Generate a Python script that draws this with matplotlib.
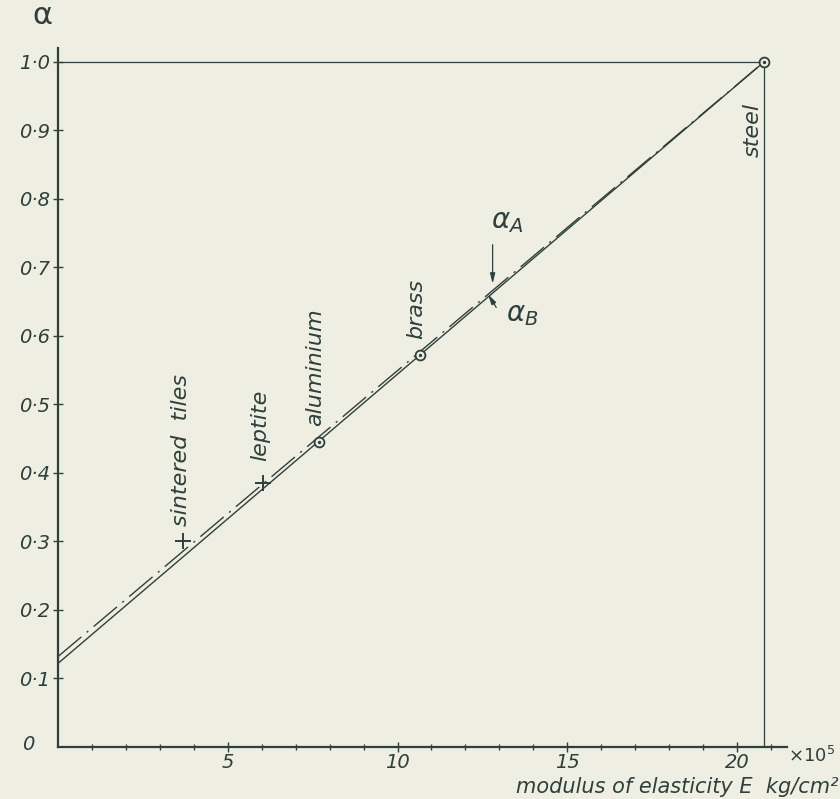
import matplotlib
matplotlib.use('Agg')
import matplotlib.pyplot as plt
import numpy as np

# data (E in 10^5 kg/cm^2)
line_E = [0.0, 20.8]
alpha_A = [0.132, 1.0]   # dash-dot line
alpha_B = [0.122, 1.0]   # solid line

cross_names = ['sintered tiles', 'leptite']
cross_E = [3.68, 6.03]
cross_alpha = [0.300, 0.385]

circle_names = ['aluminium', 'brass', 'steel']
circle_E = [7.68, 10.65, 20.8]
circle_alpha = [0.445, 0.572, 1.0]

x_ticks = [5, 10, 15, 20]
y_ticks = [0.1, 0.2, 0.3, 0.4, 0.5, 0.6, 0.7, 0.8, 0.9, 1.0]
y_tick_labels = ['0·1', '0·2', '0·3', '0·4', '0·5', '0·6', '0·7', '0·8', '0·9', '1·0']

ink = '#2e403b'
paper = '#efeee3'

plt.rcParams['font.family'] = ['DejaVu Sans']

fig = plt.figure(figsize=(8.4, 7.99), dpi=100, facecolor=paper)
ax = fig.add_axes([58 / 840, 52 / 799, (787 - 58) / 840, (747 - 48) / 799])
ax.set_facecolor(paper)
ax.set_xlim(0, 21.47)
ax.set_ylim(0, 1.02)

for s in ['top', 'right']:
    ax.spines[s].set_visible(False)
for s in ['left', 'bottom']:
    ax.spines[s].set_color(ink)
    ax.spines[s].set_linewidth(1.6)

ax.set_xticks(x_ticks)
ax.set_xticklabels([str(t) for t in x_ticks], fontsize=14, style='italic', color=ink)
ax.set_xticks(np.arange(1, 22), minor=True)
ax.set_yticks(y_ticks)
ax.set_yticklabels(y_tick_labels, fontsize=14, style='italic', color=ink)
ax.tick_params(axis='both', which='both', direction='inout', color=ink, width=1.0)
ax.tick_params(axis='both', which='major', length=7)
ax.tick_params(axis='both', which='minor', length=4)
ax.tick_params(axis='x', pad=1)
ax.tick_params(axis='y', pad=2)

# frame lines to the steel point
ax.plot([0, circle_E[-1]], [1.0, 1.0], color=ink, lw=0.9)
ax.plot([circle_E[-1], circle_E[-1]], [0, 1.0], color=ink, lw=0.9)

# the two nearly coincident lines
ax.plot(line_E, alpha_B, color=ink, lw=1.0, solid_capstyle='butt')
ax.plot(line_E, alpha_A, color=ink, lw=1.0, dashes=(22, 5, 1.5, 5))

# material points
ax.scatter(cross_E, cross_alpha, marker='+', s=140, color=ink, linewidths=1.4, zorder=4)
ax.scatter(circle_E, circle_alpha, marker='o', s=50, facecolors=paper, edgecolors=ink,
           linewidths=1.3, zorder=4)
ax.scatter(circle_E, circle_alpha, marker='.', s=8, color=ink, zorder=5)

# vertical labels
label_pos = {
    'sintered  tiles': (3.62, 0.322, 'bottom'),
    'leptite': (5.97, 0.418, 'bottom'),
    'aluminium': (7.58, 0.468, 'bottom'),
    'brass': (10.55, 0.595, 'bottom'),
    'steel': (20.45, 0.90, 'center'),
}
for name, (x, y, va) in label_pos.items():
    ax.text(x, y, name, rotation=90, ha='center', va=va, fontsize=16,
            style='italic', color=ink)

# alpha_A / alpha_B arrows
ax.annotate('', xy=(12.8, 0.672), xytext=(12.8, 0.737),
            arrowprops=dict(arrowstyle='-|>,head_length=0.6,head_width=0.15',
                            color=ink, lw=0.9))
ax.annotate('', xy=(12.62, 0.664), xytext=(12.95, 0.638),
            arrowprops=dict(arrowstyle='-|>,head_length=0.6,head_width=0.15',
                            color=ink, lw=0.9))
ax.text(12.75, 0.768, r'$\alpha_A$', fontsize=20, color=ink, ha='left', va='center')
ax.text(13.2, 0.632, r'$\alpha_B$', fontsize=20, color=ink, ha='left', va='center')

# axis captions
fig.text(28 / 840, 1 - 745 / 799, '0', fontsize=14, style='italic', color=ink,
         ha='center', va='center')
fig.text(42 / 840, 1 - 16 / 799, 'α', fontsize=22, color=ink,
         ha='center', va='center')
fig.text(812 / 840, 1 - 756 / 799, r'$\times 10^5$', fontsize=13, color=ink,
         ha='center', va='center')
fig.text(838 / 840, 1 - 787 / 799, 'modulus of elasticity E  kg/cm²', fontsize=15,
         style='italic', color=ink, ha='right', va='center')

fig.savefig('out.png', dpi=100, facecolor=paper)
